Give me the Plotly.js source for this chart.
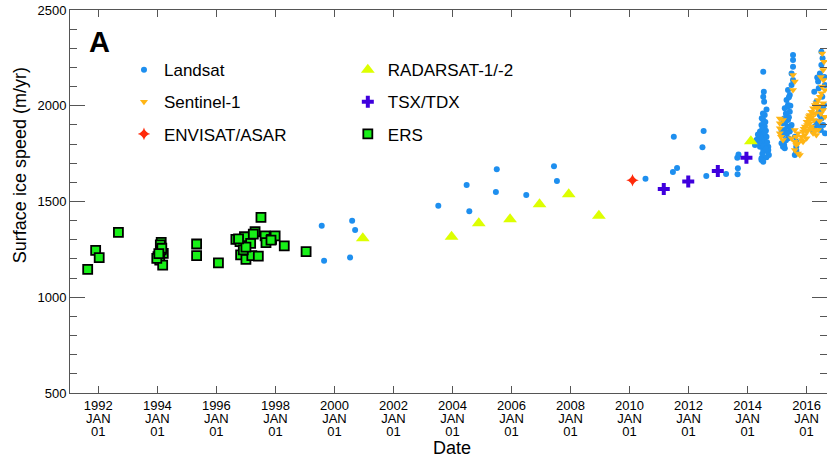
<!DOCTYPE html>
<html>
<head>
<meta charset="utf-8">
<script src="https://cdn.plot.ly/plotly-3.0.1.min.js"></script>
<style>html,body{margin:0;padding:0;background:#fff;}#chart{width:827px;height:459px;}</style>
</head>
<body>
<div id="chart"></div>
<script>
// ---- Data (decimal year, surface ice speed m/yr) ----
const ersYears = [1991.64,1991.91,1992.03,1992.68,1994.13,1994.10,1994.20,1994.02,1994.08,1994.18,1994.13,1993.98,1994.15,1994.05,1995.33,1995.33,1996.07,1996.66,1996.80,1996.95,1997.16,1997.31,1997.51,1997.65,1997.87,1997.99,1998.30,1999.04,1996.82,1997.00,1997.20,1997.42,1996.91,1997.68,1997.00,1997.85,1997.25,1996.75];
const ersSpeed = [1146,1245,1207,1339,1287,1274,1229,1212,1194,1168,1247,1203,1256,1228,1278,1217,1179,1302,1290,1316,1281,1342,1417,1320,1302,1321,1268,1238,1221,1198,1217,1215,1247,1285,1262,1298,1330,1305];

const landsatYears = [1999.57,2000.60,2000.70,1999.65,2000.53,2003.52,2004.48,2004.57,2005.50,2005.47,2006.50,2007.44,2007.54,2010.54,2011.50,2011.61,2011.47,2012.51,2012.47,2012.60,2013.27,2013.66,2013.67,2013.65,2013.69,
 2014.53,2014.55,2014.53,2014.56,2014.64,2014.58,2014.53,2014.47,2014.58,2014.42,2014.53,2014.64,2014.36,2014.47,2014.60,2014.70,2014.42,2014.53,2014.68,2014.72,2014.47,2014.64,2014.30,2014.25,2014.47,2014.53,2014.70,2014.50,2014.62,2014.45,2014.57,2014.66,2014.40,2014.55,2014.62,2014.50,2014.58,2014.35,2014.60,2014.52,2014.48,
 2015.54,2015.54,2015.54,2015.49,2015.54,2015.49,2015.37,2015.43,2015.32,2015.37,2015.26,2015.43,2015.32,2015.24,2015.37,2015.20,2015.35,2015.49,2015.26,2015.43,2015.20,2015.60,2015.65,2015.24,2015.26,2015.65,2015.65,2015.15,2015.15,2015.20,2015.65,2015.60,2015.30,2015.40,2015.28,2015.45,2015.33,2015.38,2015.30,2015.45,2015.40,2015.35,
 2016.50,2016.54,2016.50,2016.45,2016.39,2016.26,2016.41,2016.62,2016.53,2016.33,2016.59,2016.41,2016.50,2016.33,2016.56,2016.28,2016.48,2016.62,2016.22,2016.36,2016.45,2016.55,2016.40,2016.60];
const landsatSpeed = [1374,1400,1351,1191,1207,1478,1586,1449,1668,1550,1534,1684,1607,1619,1838,1675,1654,1868,1783,1633,1644,1642,1673,1729,1746,
 2178,2073,2047,2021,1981,1952,1926,1900,1891,1865,1847,1838,1830,1812,1804,1786,1786,1769,1760,1743,1726,1731,1821,1795,1717,1708,1769,1880,1870,1840,1820,1810,1805,1790,1775,1750,1860,1850,1915,1960,1935,
 2265,2239,2204,2169,2134,2108,2082,2056,2030,2004,1987,1969,1952,1934,1926,1908,1891,1900,1873,1865,1847,1838,1812,1795,1778,1786,1760,1873,1804,1786,1769,1743,1960,1940,1915,1885,1855,1830,1820,2000,2045,1995,
 2282,2248,2213,2169,2126,2073,2091,2108,2047,2021,2004,1969,1934,1917,1900,1891,1873,1856,1865,2148,1950,1985,1900,2150];

const sentinelYears = [2015.09,2015.09,2015.13,2015.20,2015.09,2015.09,2015.20,2015.54,2015.60,2015.54,2015.60,2015.65,2015.71,2015.77,2015.60,2015.71,2015.49,2015.60,2015.71,2015.65,2015.83,2015.88,2015.94,2016.00,2016.05,2016.11,2016.16,2016.22,2016.28,2016.33,2016.39,2016.45,2016.50,2015.83,2015.94,2016.05,2016.16,2016.28,2016.33,2016.22,2016.11,2016.56,2016.62,2016.62,2016.56,2016.53,2016.59,2016.57,2015.88,2016.00,2016.00,2016.11,2016.22,2016.33,2016.39,2016.28,2016.56,2015.90,2016.02,2016.08,2016.18,2016.25,2016.14,2016.30,2016.36,2016.42,2016.48,2016.44,2016.52,2016.48];
const sentinelSpeed = [1934,1882,1838,1821,1908,1856,1926,2161,2126,2082,1873,1838,1804,1743,1769,1856,1830,1812,1751,1795,1821,1865,1891,1917,1934,1952,1969,1987,2004,2013,2030,2047,2065,1838,1847,1873,1891,1873,1847,1856,1908,1978,1943,2082,2187,2273,2230,2134,1812,1830,1865,1926,1961,1995,1873,1865,2013,1880,1900,1945,1940,1925,1880,1960,1985,2000,1960,1920,2100,2150];

const envisatYears = [2010.10];
const envisatSpeed = [1611];

const radarsatYears = [2000.96,2003.97,2004.89,2005.95,2006.95,2007.94,2008.96,2014.11];
const radarsatSpeed = [1308,1316,1386,1407,1485,1538,1426,1814];

const tsxYears = [2011.16,2011.99,2012.99,2013.96];
const tsxSpeed = [1565,1605,1659,1729];

const tickYears = [1992,1994,1996,1998,2000,2002,2004,2006,2008,2010,2012,2014,2016];
const tickMonth = 'JAN';
const tickDay = '01';

// ---- helpers ----
function toDate(dy){
  const y = Math.floor(dy);
  const start = Date.UTC(y,0,1), end = Date.UTC(y+1,0,1);
  return new Date(start + (dy - y)*(end - start)).toISOString().slice(0,19).replace('T',' ');
}
const dates = arr => arr.map(toDate);

const axisGrey = '#555555';
const traces = [
  {name:'Landsat', x:dates(landsatYears), y:landsatSpeed, type:'scatter', mode:'markers',
   marker:{symbol:'circle', size:6, color:'#1E8FEF'}, legend:'legend', legendgroup:'a'},
  {name:'Sentinel-1', x:dates(sentinelYears), y:sentinelSpeed, type:'scatter', mode:'markers',
   marker:{symbol:'triangle-down', size:7, color:'#FFB515'}, legend:'legend', legendgroup:'b'},
  {name:'ENVISAT/ASAR', x:dates(envisatYears), y:envisatSpeed, type:'scatter', mode:'markers',
   marker:{symbol:'star-diamond', size:9, color:'#FF2A0A'}, legend:'legend', legendgroup:'c'},
  {name:'RADARSAT-1/-2', x:dates(radarsatYears), y:radarsatSpeed, type:'scatter', mode:'markers',
   marker:{symbol:'triangle-up', size:12, color:'#DDFF00'}, legend:'legend2', legendgroup:'d'},
  {name:'TSX/TDX', x:dates(tsxYears), y:tsxSpeed, type:'scatter', mode:'markers',
   marker:{symbol:'cross', size:10, color:'#3F00DD'}, legend:'legend2', legendgroup:'e'},
  {name:'ERS', x:dates(ersYears), y:ersSpeed, type:'scatter', mode:'markers',
   marker:{symbol:'square', size:9, color:'#18F018', line:{color:'#000', width:1.8}}, legend:'legend2', legendgroup:'f'},
  // empty helper traces so the extra label rows (month, day) get their axes drawn
  {x:[], y:[], xaxis:'x2', type:'scatter', mode:'markers', showlegend:false, hoverinfo:'skip'},
  {x:[], y:[], xaxis:'x3', type:'scatter', mode:'markers', showlegend:false, hoverinfo:'skip'}
];

const legendBase = {bgcolor:'rgba(0,0,0,0)', borderwidth:0, font:{size:17, color:'#000'},
  tracegroupgap:7, xanchor:'left', yanchor:'top', traceorder:'grouped'};

const xRange = [toDate(1991.04), toDate(2016.69)];
const tickVals = tickYears.map(y=>toDate(y));
const labelRow = (text, standoff) => ({type:'date', range:xRange, overlaying:'x', anchor:'y', side:'bottom',
  tickmode:'array', tickvals:tickVals, ticktext:tickYears.map(()=>text),
  ticks:'', showline:false, showgrid:false, zeroline:false, ticklabelstandoff:standoff,
  tickfont:{size:13, color:'#000'}});

const layout = {
  width:827, height:459,
  margin:{l:70, r:0, t:10, b:66},
  paper_bgcolor:'#fff', plot_bgcolor:'#fff',
  font:{family:'"Liberation Sans", Arial, Helvetica, sans-serif', color:'#000'},
  showlegend:true,
  legend:Object.assign({}, legendBase, {x:0.0713, y:0.89}),
  legend2:Object.assign({}, legendBase, {x:0.367, y:0.89}),
  xaxis:{type:'date', range:xRange,
    tickmode:'array', tickvals:tickVals,
    ticktext:tickYears.map(y=>String(y)),
    ticks:'inside', ticklen:7, tickcolor:axisGrey, tickwidth:1,
    showline:true, linecolor:axisGrey, linewidth:1, mirror:'ticks',
    showgrid:false, zeroline:false, tickfont:{size:13, color:'#000'}},
  xaxis2:labelRow(tickMonth, 16),
  xaxis3:labelRow(tickDay, 29),
  yaxis:{range:[500,2500], tick0:500, dtick:500, ticks:'inside', ticklen:15, tickcolor:axisGrey, tickwidth:1,
    minor:{dtick:100, ticks:'inside', ticklen:7, tickcolor:axisGrey, showgrid:false},
    showline:true, linecolor:axisGrey, linewidth:1, mirror:'ticks',
    showgrid:false, zeroline:false, tickfont:{size:13, color:'#000'}},
  annotations:[
    {text:'Surface ice speed (m/yr)', xref:'paper', yref:'paper', x:-0.066, y:0.595, textangle:-90,
     showarrow:false, font:{size:18, color:'#000'}, xanchor:'center', yanchor:'middle'},
    {text:'Date', xref:'paper', yref:'paper', x:0.5046, y:-0.1436, showarrow:false,
     font:{size:18, color:'#000'}, xanchor:'center', yanchor:'middle'},
    {text:'<b>A</b>', xref:'paper', yref:'paper', x:0.0396, y:0.9164, showarrow:false,
     font:{size:29, color:'#000'}, xanchor:'center', yanchor:'middle'}
  ]
};

Plotly.newPlot('chart', traces, layout, {staticPlot:true, displayModeBar:false});
</script>
</body>
</html>
